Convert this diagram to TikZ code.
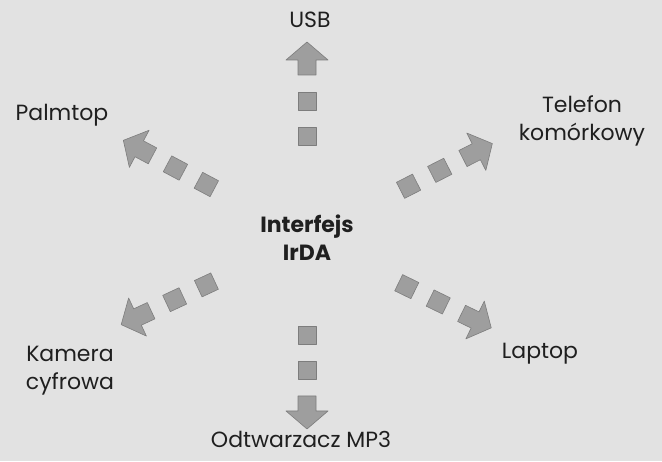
\documentclass[tikz,border=0pt]{standalone}
\usepackage{fontspec}
\setmainfont{Poppins}
\usetikzlibrary{calc}
\definecolor{tlo}{RGB}{226,226,226}
\definecolor{blokfill}{RGB}{158,158,158}
\definecolor{blokdraw}{RGB}{125,125,125}
\tikzset{
	blok/.style={fill=blokfill, draw=blokdraw, line width=0.6pt, line join=round},
	etykieta/.style={font=\fontsize{22}{28}\selectfont, text=black!88, align=center, inner sep=0pt}
}
% two squares and a block arrow, starting #2 from irda in direction #1
\def\dotarrow(#1:#2){\begin{scope}[shift={($(irda)+(#1:#2)$)}, rotate=#1]
	\draw[blok] (-9, -9) rectangle (9, 9);
	\draw[blok] (26, -9) rectangle (44, 9);
	\draw[blok] (61, -9) -- (76, -9) -- (76, -21) -- (94, 0) -- (76, 21) -- (76, 9) -- (61, 9) -- cycle;
\end{scope}}

\begin{document}
\begin{tikzpicture}[x=1pt, y=1pt]
			%%%%% START %%%%%
			
			\fill[tlo] (0, 0) rectangle (662, 461);
			\useasboundingbox (0, 0) rectangle (662, 461);
			
			\node[etykieta, font=\fontsize{22}{28}\selectfont\bfseries] (irda) at (307, 223) {Interfejs\\IrDA};
			
			\node[etykieta] (usb) at (310, 441) {USB};
			\node[etykieta] (palmtop) at (62, 346) {Palmtop};
			\node[etykieta] (telefon) at (582, 340) {Telefon\\komórkowy};
			\node[etykieta] (kamera) at (70, 90) {Kamera\\cyfrowa};
			\node[etykieta] (mp3) at (301, 22) {Odtwarzacz MP3};
			\node[etykieta] (laptop) at (540, 107) {Laptop};
			
			\dotarrow(90:102)
			\dotarrow(270:97)
			\dotarrow(152:114)
			\dotarrow(27:114)
			\dotarrow(-26:111)
			\dotarrow(205:111)
			
			%%%%% END %%%%%
		\end{tikzpicture}
\end{document}
